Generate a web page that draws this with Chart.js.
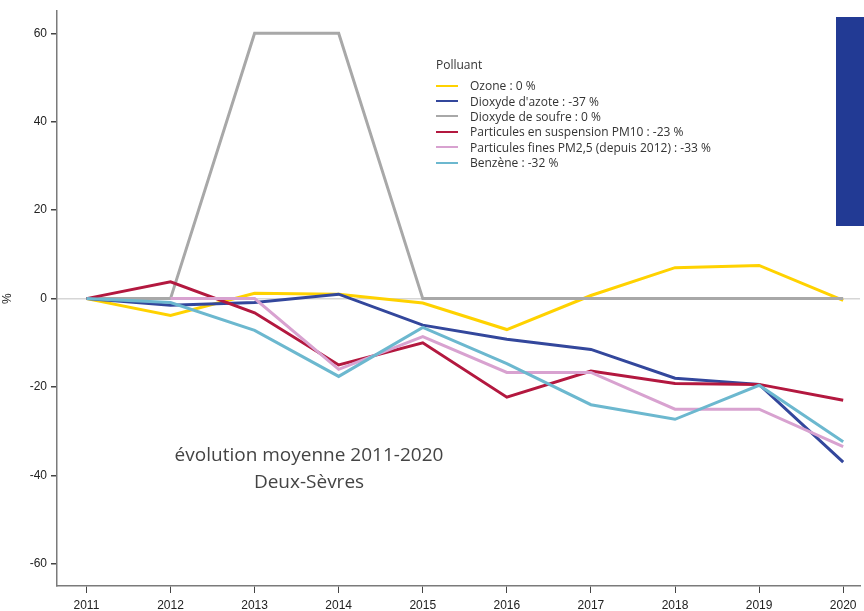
<!DOCTYPE html>
<html lang="fr">
<head>
<meta charset="utf-8">
<script src="https://cdn.jsdelivr.net/npm/chart.js@4/dist/chart.umd.min.js"></script>
<style>
  html, body { margin: 0; padding: 0; background: #fff; }
  #wrap { position: relative; width: 864px; height: 611px; overflow: hidden; }
  #bar { position: absolute; left: 836px; top: 17px; width: 28px; height: 209px; background: #223a94; }
  #legend { position: absolute; left: 436px; top: 56px; font-family: "Open Sans", "Noto Sans", sans-serif; font-size: 12px; color: #333; }
  #legend .title { margin-bottom: 5px; }
  #legend .item { display: flex; align-items: center; height: 15.4px; white-space: nowrap; }
  #legend .swatch { width: 22px; height: 2px; margin-right: 12px; }
  #note { position: absolute; left: 159px; top: 441px; width: 300px; text-align: center;
          font-family: "Open Sans", "Noto Sans", sans-serif; font-size: 19px; line-height: 27px; color: #444; }
</style>
</head>
<body>
<div id="wrap">
  <canvas id="lineChart" width="864" height="611"></canvas>
  <div id="bar"></div>
  <div id="legend"></div>
  <div id="note">évolution moyenne 2011-2020<br>Deux-Sèvres</div>
</div>
<script>
const years = [2011, 2012, 2013, 2014, 2015, 2016, 2017, 2018, 2019, 2020];
const yTicks = [-60, -40, -20, 0, 20, 40, 60];

const ozone = [0, -3.8, 1.2, 1, -1, -7, 0.7, 7, 7.5, -0.4];
const dioxydeAzote = [0, -1.5, -0.9, 1, -6, -9.2, -11.5, -18, -19.4, -37];
const dioxydeSoufre = [0, 0, 60, 60, 0, 0, 0, 0, 0, 0];
const pm10 = [0, 3.8, -3.2, -15, -10, -22.3, -16.4, -19.2, -19.4, -23];
const pm25 = [null, 0, 0, -16, -8.6, -16.7, -16.7, -25, -25, -33.5];
const benzene = [0, -0.9, -7.2, -17.6, -6.5, -14.7, -24, -27.3, -19.6, -32.4];

const series = [
    { label: 'Ozone : 0 %', data: ozone, color: '#ffd200' },
    { label: "Dioxyde d'azote : -37 %", data: dioxydeAzote, color: '#33479c' },
    { label: 'Dioxyde de soufre : 0 %', data: dioxydeSoufre, color: '#a8a8a8' },
    { label: 'Particules en suspension PM10 : -23 %', data: pm10, color: '#b3183f' },
    { label: 'Particules fines PM2,5 (depuis 2012) : -33 %', data: pm25, color: '#d8a2d0' },
    { label: 'Benzène : -32 %', data: benzene, color: '#6cb8cf' }
];

document.addEventListener('DOMContentLoaded', function () {
    const ctx = document.getElementById('lineChart').getContext('2d');
    const tickFont = { family: '"Liberation Sans", Arial, sans-serif', size: 12 };

    const lineChart = new Chart(ctx, {
        type: 'line',
        data: {
            datasets: series.map((s, i) => ({
                label: s.label,
                data: years.map((yr, j) => ({ x: yr, y: s.data[j] })),
                borderColor: s.color,
                backgroundColor: s.color,
                borderWidth: 3,
                pointRadius: 0,
                tension: 0,
                spanGaps: false,
                order: series.length - i
            }))
        },
        options: {
            responsive: false,
            animation: false,
            layout: { padding: { top: 9, right: 4, left: 0, bottom: 0 } },
            plugins: {
                legend: { display: false },
                tooltip: { enabled: false }
            },
            scales: {
                x: {
                    type: 'linear',
                    min: 2010.65,
                    max: 2020.2,
                    afterBuildTicks: scale => { scale.ticks = years.map(v => ({ value: v })); },
                    afterFit: scale => { scale.height = 25; },
                    border: { display: true, color: '#7a7a7a', width: 1.5 },
                    grid: { drawOnChartArea: false, drawTicks: true, tickLength: 7, tickColor: '#444' },
                    ticks: { font: tickFont, color: '#222', padding: 5, maxRotation: 0, callback: v => String(v) }
                },
                y: {
                    min: -65,
                    max: 65,
                    afterBuildTicks: scale => { scale.ticks = yTicks.map(v => ({ value: v })); },
                    afterFit: scale => { scale.width = 57; },
                    border: { display: true, color: '#7a7a7a', width: 1.5 },
                    grid: {
                        drawTicks: true,
                        tickLength: 6,
                        tickColor: '#444',
                        color: c => (c.tick && c.tick.value === 0 ? '#d6d6d6' : 'rgba(0,0,0,0)'),
                        lineWidth: 1.5
                    },
                    ticks: { font: tickFont, color: '#222', padding: 4, callback: v => String(v) },
                    title: { display: true, text: '%', font: tickFont, color: '#222', padding: 0 }
                }
            }
        }
    });

    // Legend built from the chart datasets
    const legend = document.getElementById('legend');
    const title = document.createElement('div');
    title.className = 'title';
    title.textContent = 'Polluant';
    legend.appendChild(title);
    lineChart.data.datasets.forEach(ds => {
        const item = document.createElement('div');
        item.className = 'item';
        const sw = document.createElement('span');
        sw.className = 'swatch';
        sw.style.background = ds.borderColor;
        const txt = document.createElement('span');
        txt.textContent = ds.label;
        item.appendChild(sw);
        item.appendChild(txt);
        legend.appendChild(item);
    });
});
</script>
</body>
</html>
